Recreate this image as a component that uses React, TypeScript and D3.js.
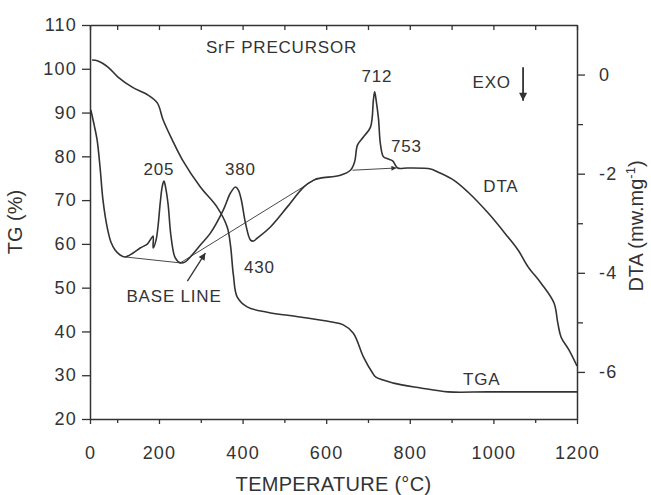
import React, { useRef, useEffect } from "react";
import * as d3 from "d3";

// TGA curve (temperature in C, weight %)
const tgaTemp = [40, 54, 78, 102, 136, 174, 196, 210, 232, 256, 299, 339, 363, 371, 378, 387, 411, 459, 538, 610, 641, 665, 689, 711, 718, 761, 826, 891, 987, 1200];
const tgaValue = [102.0, 101.8, 100.4, 98.1, 95.8, 94.0, 92.2, 88.3, 83.7, 79.2, 73.0, 68.4, 63.9, 59.7, 52.9, 47.9, 45.6, 44.4, 43.3, 42.2, 41.5, 39.6, 34.2, 30.5, 29.6, 28.2, 27.1, 26.2, 26.2, 26.2];

// DTA curve (temperature in C, mw/mg)
const dtaTemp = [37, 45, 52, 59, 66, 76, 85, 95, 107, 119, 138, 155, 172, 179, 186, 186, 193, 198, 203, 208, 212, 217, 222, 229, 239, 251, 263, 275, 299, 323, 354, 371, 383, 390, 397, 407, 419, 426, 435, 466, 507, 546, 570, 586, 634, 658, 668, 675, 689, 706, 713, 716, 720, 725, 730, 737, 747, 759, 771, 795, 850, 867, 905, 939, 987, 1035, 1059, 1083, 1114, 1145, 1154, 1162, 1181, 1200];
const dtaValue = [-0.715, -1.02, -1.32, -1.865, -2.53, -3.08, -3.38, -3.54, -3.64, -3.68, -3.6, -3.5, -3.42, -3.34, -3.26, -3.5, -3.34, -3.04, -2.59, -2.25, -2.15, -2.33, -2.63, -3.28, -3.7, -3.8, -3.78, -3.68, -3.44, -3.2, -2.73, -2.39, -2.27, -2.33, -2.53, -3.0, -3.34, -3.36, -3.3, -3.08, -2.67, -2.27, -2.13, -2.09, -2.03, -1.93, -1.76, -1.42, -1.26, -1.06, -0.51, -0.35, -0.55, -0.88, -1.42, -1.66, -1.7, -1.74, -1.885, -1.885, -1.905, -1.966, -2.13, -2.37, -2.79, -3.28, -3.54, -3.88, -4.21, -4.61, -5.01, -5.3, -5.56, -5.88];

// ticks
const tempTicks = [0, 200, 400, 600, 800, 1000, 1200];
const tempMinorTicks = [100, 300, 500, 700, 900, 1100];
const tgTicks = [20, 30, 40, 50, 60, 70, 80, 90, 100, 110];
const dtaTicks = [-6, -4, -2, 0];
const dtaMinorTicks = [-5, -3, -1];

// annotations, placed on the DTA scale
const labelText = ["SrF PRECURSOR", "205", "380", "712", "753", "EXO", "DTA", "430", "BASE LINE", "TGA"];
const labelTemp = [493, 200, 395, 721, 792, 996, 1018, 440, 236, 972];
const labelDta = [0.435, -2.03, -2.03, -0.15, -1.56, -0.27, -2.37, -4.0, -4.59, -6.26];

// base lines drawn under the peaks: [t1, v1, t2, v2]
const baseLines = [
  [119, -3.68, 251, -3.8],
  [251, -3.8, 579, -2.09],
];
const baseArrow712 = [663, -1.93, 768, -1.885];
const baseLabelArrow = [268, -4.17, 311, -3.6];
const exoArrow = [1071, 0.15, 1071, -0.53];

const W = 651;
const H = 495;
const m = { left: 90, right: 577, top: 25, bottom: 419 };
const ink = "#333";
const font = "'Liberation Sans', Arial, Helvetica, sans-serif";

const App = () => {
  const svgRef = useRef<SVGSVGElement>(null);

  useEffect(() => {
    const svg = d3.select(svgRef.current);
    svg.selectAll("*").remove();

    const x = d3.scaleLinear().domain([35, 1200]).range([m.left, m.right]).clamp(true);
    const yTg = d3.scaleLinear().domain([20, 110]).range([m.bottom, m.top]);
    const yDta = d3.scaleLinear().domain([-6.95, 1]).range([m.bottom, m.top]);

    svg.append("rect").attr("width", W).attr("height", H).attr("fill", "#fff");

    const defs = svg.append("defs");
    const marker = (id, w, h) =>
      defs
        .append("marker")
        .attr("id", id)
        .attr("viewBox", "0 0 10 10")
        .attr("refX", 10)
        .attr("refY", 5)
        .attr("markerUnits", "userSpaceOnUse")
        .attr("markerWidth", w)
        .attr("markerHeight", h)
        .attr("orient", "auto")
        .append("path")
        .attr("d", "M0,0 L10,5 L0,10 z")
        .attr("fill", ink);
    marker("head-small", 8, 5);
    marker("head-mid", 9, 7);
    marker("head-big", 12, 8);

    const styleAxis = (g, size) => {
      g.attr("font-family", font).attr("font-size", size);
      g.selectAll("line").attr("stroke", ink).attr("stroke-width", 1.3);
      g.selectAll("path").attr("stroke", ink).attr("stroke-width", 1.5);
      g.selectAll("text").attr("fill", ink).attr("letter-spacing", 1.2);
    };

    // bottom axis
    const gx = svg
      .append("g")
      .attr("transform", `translate(0,${m.bottom})`)
      .call(
        d3
          .axisBottom(x)
          .tickValues(tempTicks)
          .tickSize(5)
          .tickPadding(22)
          .tickSizeOuter(0)
          .tickFormat((d) => String(d))
      );
    styleAxis(gx, 18);
    const gxm = svg
      .append("g")
      .attr("transform", `translate(0,${m.bottom})`)
      .call(d3.axisBottom(x).tickValues(tempMinorTicks).tickSize(4).tickFormat(() => ""));
    gxm.select(".domain").remove();
    styleAxis(gxm, 18);

    // top axis, ticks inward
    const gt = svg
      .append("g")
      .attr("transform", `translate(0,${m.top})`)
      .call(
        d3
          .axisTop(x)
          .tickValues(tempTicks.concat(tempMinorTicks))
          .tickSize(-5)
          .tickSizeOuter(0)
          .tickFormat(() => "")
      );
    styleAxis(gt, 18);

    // left axis (TG)
    const gy = svg
      .append("g")
      .attr("transform", `translate(${m.left},0)`)
      .call(d3.axisLeft(yTg).tickValues(tgTicks).tickSize(8).tickPadding(5).tickSizeOuter(0));
    styleAxis(gy, 18);

    // right axis (DTA)
    const gr = svg
      .append("g")
      .attr("transform", `translate(${m.right},0)`)
      .call(
        d3
          .axisRight(yDta)
          .tickValues(dtaTicks)
          .tickSize(8)
          .tickPadding(14)
          .tickSizeOuter(0)
          .tickFormat((d) => String(d))
      );
    styleAxis(gr, 18);
    const grm = svg
      .append("g")
      .attr("transform", `translate(${m.right},0)`)
      .call(d3.axisRight(yDta).tickValues(dtaMinorTicks).tickSize(6).tickFormat(() => ""));
    grm.select(".domain").remove();
    styleAxis(grm, 18);

    // curves
    const tgaLine = d3
      .line()
      .x((d) => x(d[0]))
      .y((d) => yTg(d[1]))
      .curve(d3.curveCatmullRom.alpha(0.5));
    const dtaLine = d3
      .line()
      .x((d) => x(d[0]))
      .y((d) => yDta(d[1]))
      .curve(d3.curveCatmullRom.alpha(0.5));

    svg
      .append("path")
      .attr("d", tgaLine(tgaTemp.map((t, i) => [t, tgaValue[i]])))
      .attr("fill", "none")
      .attr("stroke", ink)
      .attr("stroke-width", 1.6);

    svg
      .append("path")
      .attr("d", dtaLine(dtaTemp.map((t, i) => [t, dtaValue[i]])))
      .attr("fill", "none")
      .attr("stroke", ink)
      .attr("stroke-width", 1.6);

    // base lines
    svg
      .selectAll(".base")
      .data(baseLines)
      .enter()
      .append("line")
      .attr("x1", (d) => x(d[0]))
      .attr("y1", (d) => yDta(d[1]))
      .attr("x2", (d) => x(d[2]))
      .attr("y2", (d) => yDta(d[3]))
      .attr("stroke", ink)
      .attr("stroke-width", 0.9);

    const arrow = (d, w, head) =>
      svg
        .append("line")
        .attr("x1", x(d[0]))
        .attr("y1", yDta(d[1]))
        .attr("x2", x(d[2]))
        .attr("y2", yDta(d[3]))
        .attr("stroke", ink)
        .attr("stroke-width", w)
        .attr("marker-end", `url(#${head})`);
    arrow(baseArrow712, 0.9, "head-small");
    arrow(baseLabelArrow, 1.3, "head-mid");
    arrow(exoArrow, 1.8, "head-big");

    // labels
    svg
      .selectAll(".label")
      .data(labelText)
      .enter()
      .append("text")
      .attr("x", (d, i) => x(labelTemp[i]))
      .attr("y", (d, i) => yDta(labelDta[i]))
      .attr("text-anchor", "middle")
      .attr("font-family", font)
      .attr("font-size", 17)
      .attr("letter-spacing", 0.8)
      .attr("fill", ink)
      .text((d) => d);

    // axis titles
    svg
      .append("text")
      .attr("x", (m.left + m.right) / 2)
      .attr("y", H - 4)
      .attr("text-anchor", "middle")
      .attr("font-family", font)
      .attr("font-size", 20)
      .attr("letter-spacing", 0.3)
      .attr("fill", ink)
      .text("TEMPERATURE (°C)");

    svg
      .append("text")
      .attr("transform", `translate(22,${(m.top + m.bottom) / 2}) rotate(-90)`)
      .attr("text-anchor", "middle")
      .attr("font-family", font)
      .attr("font-size", 20)
      .attr("fill", ink)
      .text("TG (%)");

    const dtaTitle = svg
      .append("text")
      .attr("transform", `translate(643,226) rotate(-90)`)
      .attr("text-anchor", "middle")
      .attr("font-family", font)
      .attr("font-size", 20)
      .attr("fill", ink);
    dtaTitle.append("tspan").text("DTA (mw.mg");
    dtaTitle.append("tspan").attr("font-size", 13).attr("dy", -8).text("-1");
    dtaTitle.append("tspan").attr("dy", 8).text(")");
  }, []);

  return (
    <svg
      ref={svgRef}
      width={W}
      height={H}
      style={{ position: "absolute", top: 0, left: 0, display: "block" }}
    />
  );
};

export default App;
